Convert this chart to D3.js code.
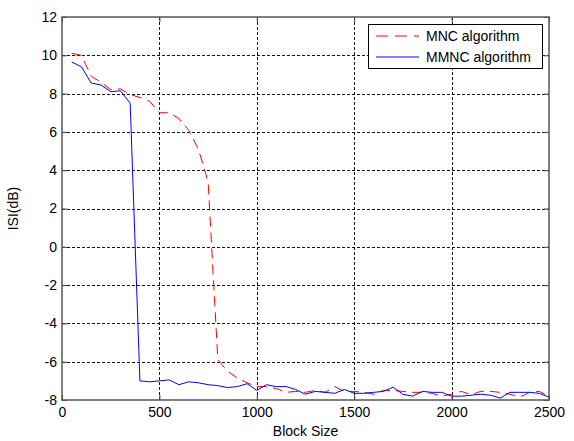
<!DOCTYPE html>
<html>
<head>
<meta charset="utf-8">
<script src="https://cdn.jsdelivr.net/npm/d3@7"></script>
<style>
  body { margin: 0; background: #fff; }
  svg text { font-family: "Liberation Sans", Arial, sans-serif; fill: #000; }
</style>
</head>
<body>
<div id="chart"></div>
<script>
// block sizes
const blockSizes = [50, 100, 150, 200, 250, 300, 350, 400, 450, 500,
  550, 600, 650, 700, 750, 800, 850, 900, 950, 1000,
  1050, 1100, 1150, 1200, 1250, 1300, 1350, 1400, 1450, 1500,
  1550, 1600, 1650, 1700, 1750, 1800, 1850, 1900, 1950, 2000,
  2050, 2100, 2150, 2200, 2250, 2300, 2350, 2400, 2450, 2500];

// ISI (dB), MNC algorithm
const mncValues = [10.1, 10.0, 8.9, 8.6, 8.2, 8.25, 7.95, 7.8, 7.6, 7.0,
  7.0, 6.7, 6.1, 5.1, 3.4, -5.9, -6.5, -6.85, -7.1, -7.3,
  -7.3, -7.4, -7.6, -7.55, -7.6, -7.5, -7.6, -7.3, -7.55, -7.55,
  -7.6, -7.7, -7.5, -7.5, -7.55, -7.6, -7.6, -7.65, -7.8, -7.7,
  -7.55, -7.72, -7.55, -7.55, -7.6, -7.7, -7.85, -7.6, -7.55, -7.8];

// ISI (dB), MMNC algorithm
const mmncValues = [9.65, 9.4, 8.55, 8.45, 8.1, 8.15, 7.5, -7.0, -7.05, -7.0,
  -6.95, -7.2, -7.05, -7.1, -7.2, -7.25, -7.35, -7.3, -7.15, -7.5,
  -7.2, -7.3, -7.3, -7.45, -7.7, -7.55, -7.6, -7.65, -7.45, -7.65,
  -7.65, -7.6, -7.55, -7.33, -7.7, -7.8, -7.55, -7.6, -7.6, -7.8,
  -7.8, -7.75, -7.7, -7.75, -7.9, -7.6, -7.6, -7.6, -7.65, -7.85];

const xTicks = [0, 500, 1000, 1500, 2000, 2500];
const yTicks = [-8, -6, -4, -2, 0, 2, 4, 6, 8, 10, 12];

const seriesNames = ['MNC algorithm', 'MMNC algorithm'];

/**
 * Draw the chart
 */
function drawChart() {
  const SVG_WIDTH = 574;
  const SVG_HEIGHT = 441;
  const margin = { left: 62, top: 17, right: 25, bottom: 41 };
  const width = SVG_WIDTH - margin.left - margin.right;
  const height = SVG_HEIGHT - margin.top - margin.bottom;

  const svg = d3.select('#chart').append('svg')
    .attr('width', SVG_WIDTH)
    .attr('height', SVG_HEIGHT);
  const g = svg.append('g')
    .attr('transform', `translate(${margin.left},${margin.top})`);

  const x = d3.scaleLinear().domain([0, 2500]).range([0, width]);
  const y = d3.scaleLinear().domain([-8, 12]).range([height, 0]);

  // plain labels, hyphen minus like the original
  const fmt = d => String(d);

  // grid
  g.append('g').selectAll('line')
    .data(xTicks.slice(1, -1))
    .join('line')
      .attr('x1', d => Math.round(x(d)) + 0.5)
      .attr('x2', d => Math.round(x(d)) + 0.5)
      .attr('y1', 0)
      .attr('y2', height)
      .attr('stroke', '#111')
      .attr('stroke-dasharray', '3,2');
  g.append('g').selectAll('line')
    .data(yTicks.slice(1, -1))
    .join('line')
      .attr('x1', 0)
      .attr('x2', width)
      .attr('y1', d => Math.round(y(d)) + 0.5)
      .attr('y2', d => Math.round(y(d)) + 0.5)
      .attr('stroke', '#111')
      .attr('stroke-dasharray', '3,2');

  // axes, ticks pointing inward
  const xAxis = g.append('g')
    .attr('transform', `translate(0,${height})`)
    .call(d3.axisBottom(x).tickValues(xTicks).tickFormat(fmt)
      .tickSizeInner(-5).tickSizeOuter(0).tickPadding(7));
  const yAxis = g.append('g')
    .call(d3.axisLeft(y).tickValues(yTicks).tickFormat(fmt)
      .tickSizeInner(-5).tickSizeOuter(0).tickPadding(5));
  g.append('g')
    .call(d3.axisTop(x).tickValues(xTicks).tickSizeInner(-5).tickSizeOuter(0).tickFormat(''));
  g.append('g')
    .attr('transform', `translate(${width},0)`)
    .call(d3.axisRight(y).tickValues(yTicks).tickSizeInner(-5).tickSizeOuter(0).tickFormat(''));

  g.selectAll('.domain').remove();
  g.selectAll('.tick line').attr('stroke', '#444');
  [xAxis, yAxis].forEach(a => a.selectAll('text')
    .style('font-size', '14px')
    .style('font-family', '"Liberation Sans", Arial, sans-serif')
    .attr('fill', '#000'));

  // lines
  const line = d3.line()
    .x((_, i) => x(blockSizes[i]))
    .y(d => y(d));

  g.append('path')
    .datum(mncValues)
      .attr('fill', 'none')
      .attr('stroke', '#ff0000')
      .attr('stroke-width', 1)
      .attr('stroke-dasharray', '10,6')
      .attr('d', line);

  g.append('path')
    .datum(mmncValues)
      .attr('fill', 'none')
      .attr('stroke', '#0000ff')
      .attr('stroke-width', 1)
      .attr('d', line);

  // frame
  g.append('rect')
    .attr('x', 0)
    .attr('y', 0)
    .attr('width', width)
    .attr('height', height)
    .attr('fill', 'none')
    .attr('stroke', '#555')
    .attr('stroke-width', 1.5);

  // axis titles
  svg.append('text')
    .attr('x', margin.left + width / 2)
    .attr('y', 436)
    .attr('text-anchor', 'middle')
    .style('font-size', '14px')
    .text('Block Size');
  svg.append('text')
    .attr('transform', `translate(18,${margin.top + height / 2}) rotate(-90)`)
    .attr('text-anchor', 'middle')
    .style('font-size', '14px')
    .text('ISI(dB)');

  // legend
  const legend = svg.append('g');
  legend.append('rect')
    .attr('x', 368.5)
    .attr('y', 24.5)
    .attr('width', 174)
    .attr('height', 44)
    .attr('fill', '#fff')
    .attr('stroke', '#000');
  const styles = [
    { color: '#ff0000', dash: '12,7' },
    { color: '#0000ff', dash: null }
  ];
  seriesNames.forEach((name, i) => {
    const ly = 36 + i * 21;
    legend.append('line')
      .attr('x1', 376)
      .attr('x2', 419)
      .attr('y1', ly)
      .attr('y2', ly)
      .attr('stroke', styles[i].color)
      .attr('stroke-dasharray', styles[i].dash);
    legend.append('text')
      .attr('x', 426)
      .attr('y', ly)
      .attr('dy', '0.35em')
      .style('font-size', '14px')
      .text(name);
  });
}

(function main() {
  drawChart();
})();
</script>
</body>
</html>
